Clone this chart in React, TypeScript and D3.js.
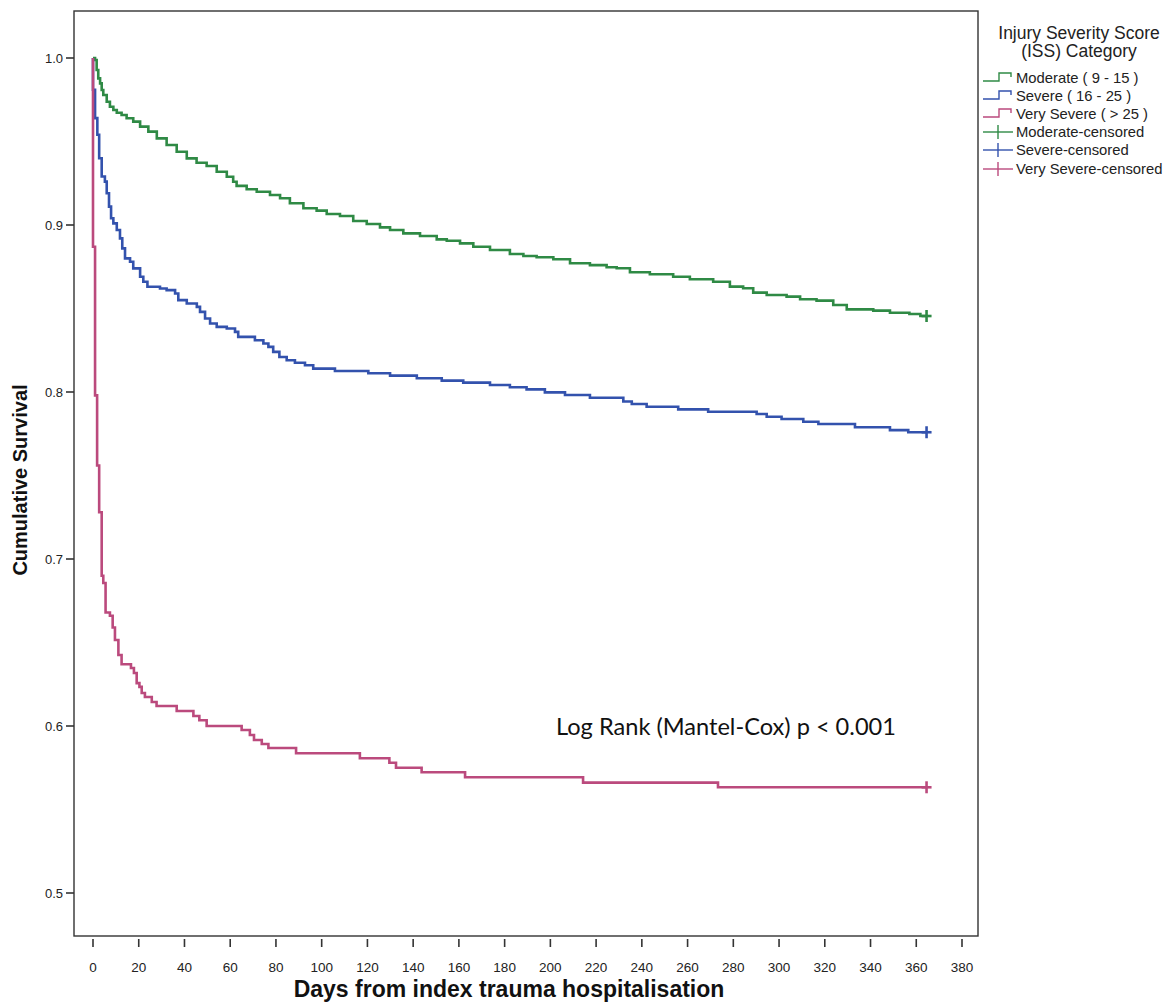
import React from 'react';
import * as d3 from 'd3';

// ---------- data ----------
const xTicks = d3.range(0, 381, 20);
const yTicks = [0.5, 0.6, 0.7, 0.8, 0.9, 1.0];
const followUpEnd = 364.5;

const moderate: [number, number][] = [
  [0, 1.0], [0.9, 0.9988], [1.6, 0.9928], [2.3, 0.9878], [3.1, 0.9848], [3.8, 0.9808], [4.5, 0.9778],
  [6.0, 0.9738], [7.4, 0.9708], [8.9, 0.9689], [10.4, 0.9672], [12.5, 0.9659], [14.7, 0.9639],
  [17.6, 0.9619], [20.6, 0.9589], [24.2, 0.9559], [27.9, 0.9519], [32.2, 0.9479], [36.6, 0.9439],
  [41.0, 0.9399], [45.3, 0.9373], [49.7, 0.9353], [54.1, 0.9319], [58.5, 0.9289], [61.3, 0.9259],
  [62.8, 0.9234], [67.2, 0.9214], [71.6, 0.9199], [77.4, 0.918], [81.8, 0.916], [86.1, 0.913],
  [92.0, 0.910], [97.8, 0.9086], [102.2, 0.9066], [108.0, 0.9054], [113.8, 0.9024], [119.7, 0.9006],
  [125.5, 0.8986], [129.9, 0.897], [135.7, 0.895], [143.0, 0.8934], [150.3, 0.8914], [154.7, 0.8906],
  [160.5, 0.889], [166.3, 0.887], [173.6, 0.885], [182.3, 0.8826], [188.2, 0.8814], [194.0, 0.8807],
  [201.3, 0.8795], [208.6, 0.8771], [217.3, 0.876], [224.6, 0.8747], [229.0, 0.8741], [234.8, 0.8717],
  [243.5, 0.8705], [253.7, 0.869], [261.0, 0.8675], [271.2, 0.866], [278.5, 0.8631], [284.3, 0.8621],
  [288.7, 0.8595], [294.6, 0.8581], [303.3, 0.8571], [309.2, 0.8555], [316.4, 0.8547], [323.7, 0.8521],
  [329.6, 0.8495], [341.2, 0.8487], [348.5, 0.8475], [357.0, 0.8467], [361.8, 0.8455],
];

const severe: [number, number][] = [
  [0, 1.0], [0, 0.981], [0.9, 0.964], [1.9, 0.954], [2.7, 0.940], [3.8, 0.929], [5.2, 0.926],
  [6.0, 0.919], [7.0, 0.911], [7.9, 0.904], [8.9, 0.901], [10.4, 0.897], [11.8, 0.892], [12.8, 0.886],
  [14.0, 0.880], [16.2, 0.878], [17.6, 0.874], [20.6, 0.869], [22.0, 0.866], [23.8, 0.863],
  [29.3, 0.862], [32.2, 0.861], [35.9, 0.859], [37.3, 0.855], [41.0, 0.853], [45.4, 0.851],
  [46.8, 0.848], [49.0, 0.844], [51.2, 0.841], [54.1, 0.839], [58.5, 0.838], [62.1, 0.836],
  [63.5, 0.833], [70.8, 0.831], [74.5, 0.829], [76.7, 0.827], [78.8, 0.824], [81.5, 0.821],
  [84.7, 0.819], [88.3, 0.8175], [92.7, 0.816], [96.3, 0.814], [105.8, 0.8126], [120.4, 0.8112],
  [129.9, 0.8098], [141.6, 0.8082], [152.5, 0.8068], [161.9, 0.8056], [173.6, 0.8042], [182.3, 0.8028],
  [189.6, 0.8016], [197.6, 0.7998], [206.4, 0.7982], [217.3, 0.7966], [231.9, 0.7943], [235.6, 0.7928],
  [242.1, 0.7912], [255.9, 0.7896], [269.0, 0.7882], [290.2, 0.7868], [294.6, 0.7852], [301.1, 0.7838],
  [310.6, 0.7822], [317.2, 0.7808], [333.2, 0.7789], [348.5, 0.7772], [356.5, 0.7759],
];

const verySevere: [number, number][] = [
  [0, 1.0], [0, 0.887], [0.9, 0.798], [1.8, 0.756], [2.7, 0.728], [3.8, 0.690], [4.5, 0.6856],
  [5.5, 0.668], [7.4, 0.666], [8.6, 0.659], [9.6, 0.6515], [11.1, 0.6425], [12.5, 0.637],
  [16.6, 0.6347], [17.9, 0.6317], [19.1, 0.6257], [20.3, 0.6234], [21.3, 0.6198], [22.7, 0.6174],
  [25.7, 0.6144], [27.8, 0.612], [36.6, 0.609], [43.9, 0.606], [46.5, 0.6034], [49.7, 0.600],
  [65.0, 0.5976], [68.6, 0.5946], [70.4, 0.5916], [73.8, 0.5892], [76.7, 0.5868], [88.8, 0.5837],
  [116.7, 0.5807], [129.6, 0.578], [132.5, 0.575], [143.7, 0.5723], [162.7, 0.5693],
  [214.3, 0.5661], [273.3, 0.5633],
];

const seriesNames = ['Moderate ( 9 - 15 )', 'Severe ( 16 - 25 )', 'Very Severe ( > 25 )'];
const censorNames = ['Moderate-censored', 'Severe-censored', 'Very Severe-censored'];
const colors = ['#2f8a45', '#3352ad', '#bb4a7d'];
const seriesData = [moderate, severe, verySevere];

// ---------- layout ----------
const W = 1165, H = 1002;
const frame = { left: 74, right: 978, top: 11, bottom: 936 };
const x = d3.scaleLinear().domain([0, 380]).range([93, 962]);
const y = d3.scaleLinear().domain([0.5, 1.0]).range([893, 58]);

const line = d3.line<[number, number]>()
  .x(d => x(d[0]))
  .y(d => y(d[1]))
  .curve(d3.curveStepAfter);

const font = '"Liberation Sans", Arial, Helvetica, sans-serif';

export default function App() {
  const legendY = [78, 96, 114, 132, 150, 169];
  return (
    <svg width={W} height={H} style={{ position: 'absolute', left: 0, top: 0, background: '#fff' }}
      fontFamily={font}>
      <rect x={0} y={0} width={W} height={H} fill="#fff" />
      {/* frame */}
      <rect x={frame.left} y={frame.top} width={frame.right - frame.left} height={frame.bottom - frame.top}
        fill="none" stroke="#333" strokeWidth={1.4} />
      {/* y ticks */}
      {yTicks.map(t => (
        <g key={'y' + t}>
          <line x1={66} x2={frame.left} y1={y(t)} y2={y(t)} stroke="#333" strokeWidth={1.6} />
          <text x={63} y={y(t)} dy="0.35em" textAnchor="end" fontSize={13} fill="#222">{t.toFixed(1)}</text>
        </g>
      ))}
      {/* x ticks */}
      {xTicks.map(t => (
        <g key={'x' + t}>
          <line x1={x(t)} x2={x(t)} y1={939} y2={947} stroke="#333" strokeWidth={1.6} />
          <text x={x(t)} y={972} textAnchor="middle" fontSize={13.5} fill="#222">{t}</text>
        </g>
      ))}
      {/* axis titles */}
      <text x={509} y={997} textAnchor="middle" fontSize={23} fontWeight="bold" fill="#111">
        Days from index trauma hospitalisation
      </text>
      <text transform={`translate(27,480) rotate(-90)`} textAnchor="middle" fontSize={20} fontWeight="bold" fill="#111">
        Cumulative Survival
      </text>
      {/* curves */}
      {seriesData.map((s, i) => {
        const last = s[s.length - 1];
        const pts: [number, number][] = [...s, [followUpEnd, last[1]]];
        return (
          <g key={'s' + i}>
            <path d={line(pts) || ''} fill="none" stroke={colors[i]} strokeWidth={2.6} />
            <line x1={x(followUpEnd) - 5} x2={x(followUpEnd) + 5} y1={y(last[1])} y2={y(last[1])}
              stroke={colors[i]} strokeWidth={2.6} />
            <line x1={x(followUpEnd)} x2={x(followUpEnd)} y1={y(last[1]) - 6} y2={y(last[1]) + 6}
              stroke={colors[i]} strokeWidth={2.6} />
          </g>
        );
      })}
      {/* annotation */}
      <text x={556} y={735} fontSize={23.6} fontFamily={'Lato, "Open Sans", sans-serif'} fill="#111">
        Log Rank (Mantel-Cox) p &lt; 0.001
      </text>
      {/* legend */}
      <text x={1079} y={39} textAnchor="middle" fontSize={17.5} fill="#222">Injury Severity Score</text>
      <text x={1079} y={57} textAnchor="middle" fontSize={17.5} fill="#222">(ISS) Category</text>
      {seriesNames.map((n, i) => {
        const cy = legendY[i];
        return (
          <g key={'l' + i}>
            <path d={`M983,${cy + 3}H999V${cy - 5}H1011V${cy - 1}`} fill="none" stroke={colors[i]} strokeWidth={1.4} />
            <text x={1016} y={cy} dy="0.35em" fontSize={14.8} fill="#222">{n}</text>
          </g>
        );
      })}
      {censorNames.map((n, i) => {
        const cy = legendY[i + 3];
        return (
          <g key={'c' + i}>
            <line x1={983} x2={1013} y1={cy} y2={cy} stroke={colors[i]} strokeWidth={1.4} />
            <line x1={998} x2={998} y1={cy - 7} y2={cy + 7} stroke={colors[i]} strokeWidth={1.4} />
            <text x={1016} y={cy} dy="0.35em" fontSize={14.8} fill="#222">{n}</text>
          </g>
        );
      })}
    </svg>
  );
}
